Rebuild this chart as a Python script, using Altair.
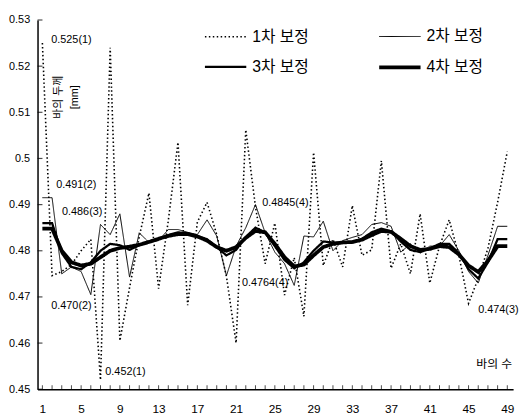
import altair as alt
import pandas as pd

bars = list(range(1, 50))
series_names = ["1차 보정", "2차 보정", "3차 보정", "4차 보정"]

s1 = [0.525, 0.4746, 0.4755, 0.4770, 0.4800, 0.4825, 0.452, 0.524, 0.4605, 0.472,
      0.483, 0.4925, 0.4718, 0.4865, 0.5035, 0.4682, 0.4862, 0.4905, 0.4835, 0.4745,
      0.460, 0.5062, 0.4895, 0.4772, 0.4860, 0.4704, 0.4785, 0.4658, 0.5013, 0.4768,
      0.4825, 0.4765, 0.4898, 0.4790, 0.4802, 0.4995, 0.4762, 0.4815, 0.4750, 0.4880,
      0.4730, 0.4810, 0.4867, 0.4790, 0.4686, 0.4740, 0.4805, 0.4905, 0.5015]
s2 = [0.4915, 0.4915, 0.4750, 0.4765, 0.4755, 0.4705, 0.4857, 0.4835, 0.4880, 0.4743,
      0.4839, 0.4818, 0.4822, 0.4846, 0.4846, 0.4840, 0.4835, 0.4867, 0.4832, 0.4746,
      0.4810, 0.4850, 0.4900, 0.4839, 0.4797, 0.4772, 0.4725, 0.4832, 0.4830, 0.4864,
      0.4800, 0.4822, 0.4829, 0.4835, 0.4857, 0.4861, 0.4853, 0.4797, 0.4815, 0.4795,
      0.4810, 0.4810, 0.4835, 0.4800, 0.4755, 0.4730, 0.4790, 0.4853, 0.4853]
s3 = [0.4860, 0.4860, 0.4795, 0.4765, 0.4760, 0.4775, 0.4800, 0.4815, 0.4812, 0.4802,
      0.4812, 0.4820, 0.4826, 0.4834, 0.4840, 0.4838, 0.4832, 0.4825, 0.4808, 0.4790,
      0.4802, 0.4830, 0.4850, 0.4840, 0.4810, 0.4780, 0.4762, 0.4775, 0.4800, 0.4820,
      0.4818, 0.4817, 0.4818, 0.4826, 0.4840, 0.4848, 0.4842, 0.4820, 0.4802, 0.4797,
      0.4805, 0.4815, 0.4815, 0.4795, 0.4760, 0.4740, 0.4775, 0.4825, 0.4825]
s4 = [0.4848, 0.4848, 0.4800, 0.4775, 0.4768, 0.4772, 0.4786, 0.4800, 0.4806, 0.4809,
      0.4813, 0.4819, 0.4826, 0.4832, 0.4836, 0.4836, 0.4831, 0.4822, 0.4808, 0.4800,
      0.4808, 0.4828, 0.4843, 0.4840, 0.4815, 0.4786, 0.4766, 0.4770, 0.4790, 0.4808,
      0.4815, 0.4818, 0.4819, 0.4824, 0.4834, 0.4843, 0.4841, 0.4826, 0.4810, 0.4802,
      0.4804, 0.4810, 0.4808, 0.4792, 0.4768, 0.4754, 0.4778, 0.4810, 0.4810]

x_tick_labels = [1, 5, 9, 13, 17, 21, 25, 29, 33, 37, 41, 45, 49]
y_tick_labels = [0.45, 0.46, 0.47, 0.48, 0.49, 0.50, 0.51, 0.52, 0.53]

ann_text = ["0.525(1)", "0.491(2)", "0.486(3)", "0.470(2)", "0.452(1)",
            "0.4845(4)", "0.4764(4)", "0.474(3)"]
ann_x = [1.92, 2.42, 3.03, 1.92, 7.5, 23.7, 21.6, 46.0]
ann_y = [0.5257, 0.4942, 0.4884, 0.4680, 0.4537, 0.4903, 0.4729, 0.4671]

xlabel_text = ["바의 수"]
xlabel_x = [49.5]
xlabel_y = [0.4554]

FONT = "Liberation Sans, Arial, Noto Sans CJK KR"

rows = []
for name, vals in zip(series_names, [s1, s2, s3, s4]):
    for b, v in zip(bars, vals):
        rows.append({"bar": b, "thk": v, "series": name})
df = pd.DataFrame(rows)

xscale = alt.Scale(domain=[0.5, 49.6], nice=False, zero=False)
yscale = alt.Scale(domain=[0.45, 0.53], nice=False, zero=False)

leg = alt.Legend(orient="none", legendX=168, legendY=-5, columns=2, direction="horizontal",
                 title=None, symbolType="stroke", symbolSize=1764, labelFontSize=16,
                 labelFont=FONT, labelColor="black", labelOffset=4,
                 columnPadding=63, rowPadding=-15, labelLimit=200)

lines = alt.Chart(df).mark_line(strokeCap="butt").encode(
    x=alt.X("bar:Q", scale=xscale,
            axis=alt.Axis(values=x_tick_labels, ticks=False, grid=False, title=None,
                          labelFontSize=12, labelFont=FONT, labelColor="black",
                          labelPadding=15, domainColor="black", domainWidth=1.5)),
    y=alt.Y("thk:Q", scale=yscale,
            axis=alt.Axis(values=y_tick_labels, ticks=False, grid=False, format=".2~f",
                          labelFontSize=11, labelFont=FONT, labelColor="black",
                          labelPadding=8, domainColor="black", domainWidth=1.5,
                          title=["바의 두께", "[mm]"], titleAngle=270, titleX=21, titleY=78,
                          titleAlign="center", titleBaseline="middle", titleFontSize=11,
                          titleFontWeight="normal", titleFont=FONT, titleLineHeight=17,
                          titleColor="black")),
    color=alt.Color("series:N", scale=alt.Scale(type="ordinal", domain=series_names,
                    range=["black"] * 4), legend=leg),
    strokeDash=alt.StrokeDash("series:N", scale=alt.Scale(type="ordinal", domain=series_names,
                              range=[[1.5, 2.5], [1, 0], [1, 0], [1, 0]]), legend=leg),
    strokeWidth=alt.StrokeWidth("series:N", scale=alt.Scale(type="ordinal", domain=series_names,
                                range=[1.6, 1.0, 2.3, 3.8]), legend=leg),
    order=alt.Order("series:N"),
)

xt = pd.DataFrame({"bar": bars, "base": [yscale.domain[0]] * len(bars)})
xticks = alt.Chart(xt).mark_tick(orient="vertical", size=4, thickness=1, color="black", yOffset=-2).encode(
    x=alt.X("bar:Q", scale=xscale), y=alt.Y("base:Q", scale=yscale))

yt = pd.DataFrame({"v": y_tick_labels, "base": [xscale.domain[0]] * len(y_tick_labels)})
yticks = alt.Chart(yt).mark_tick(orient="horizontal", size=5, thickness=1.2, color="black", xOffset=2.5).encode(
    x=alt.X("base:Q", scale=xscale), y=alt.Y("v:Q", scale=yscale))

adf = pd.DataFrame({"t": ann_text, "x": ann_x, "y": ann_y})
ann = alt.Chart(adf).mark_text(align="left", baseline="middle", fontSize=11, font=FONT, color="black").encode(
    x=alt.X("x:Q", scale=xscale), y=alt.Y("y:Q", scale=yscale), text="t:N")

ldf = pd.DataFrame({"t": xlabel_text, "x": xlabel_x, "y": xlabel_y})
xl = alt.Chart(ldf).mark_text(align="right", baseline="middle", fontSize=12, font=FONT, color="black").encode(
    x=alt.X("x:Q", scale=xscale), y=alt.Y("y:Q", scale=yscale), text="t:N")

chart = alt.layer(lines, xticks, yticks, ann, xl).properties(
    width=483, height=375,
    autosize=alt.AutoSizeParams(type="none"),
    padding={"left": 30, "top": 9, "right": 7, "bottom": 24},
).configure_view(stroke=None)

chart.save("out.html", embed_options={"renderer": "svg", "actions": False})
